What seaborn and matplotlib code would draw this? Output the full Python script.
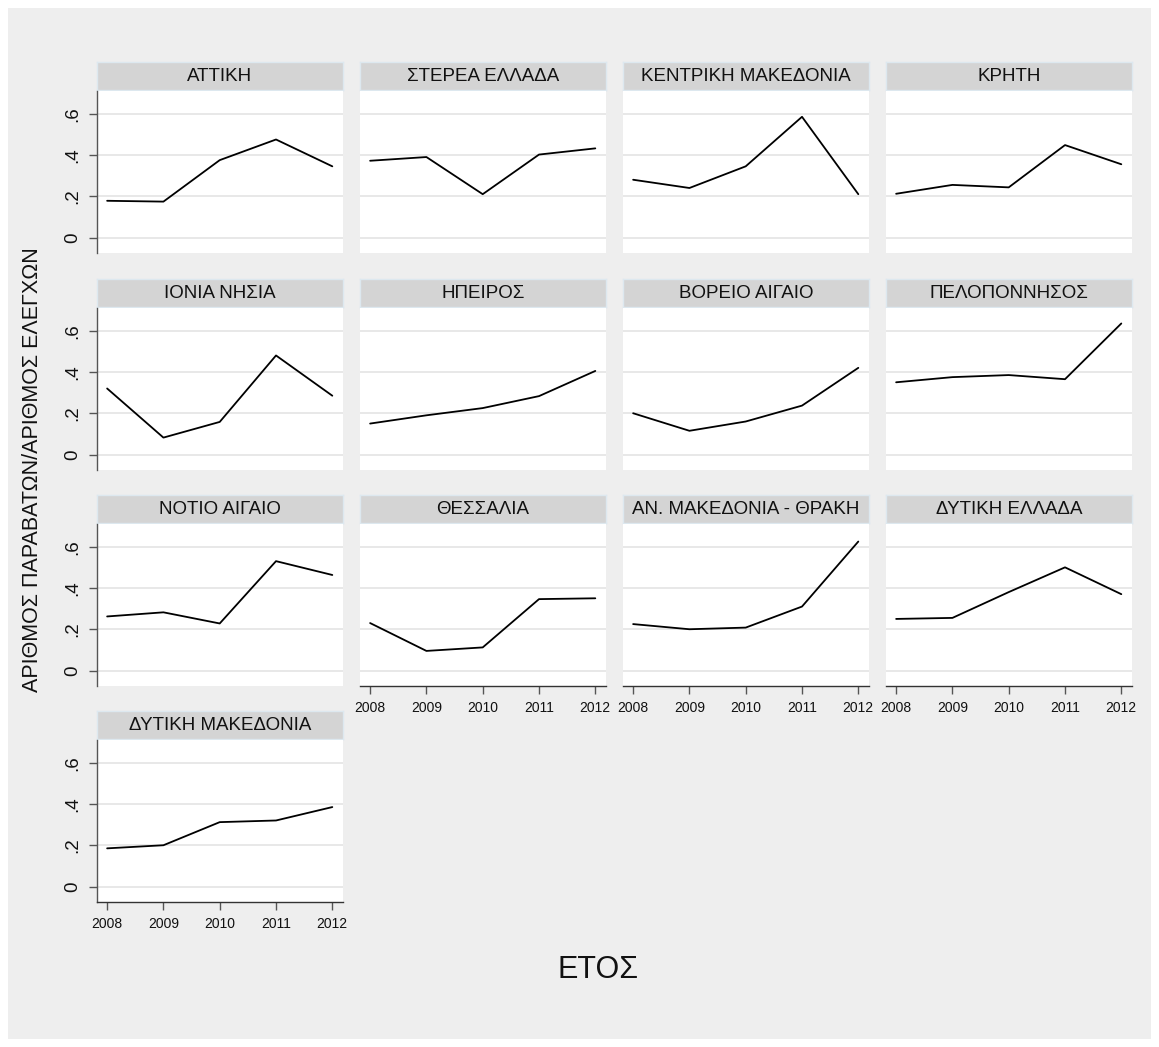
import matplotlib
matplotlib.use("Agg")
from matplotlib import pyplot as plt
from matplotlib.patches import Rectangle
import pandas as pd
import seaborn as sns

years = [2008, 2009, 2010, 2011, 2012]
regions = [
    "ΑΤΤΙΚΗ", "ΣΤΕΡΕΑ ΕΛΛΑΔΑ", "ΚΕΝΤΡΙΚΗ ΜΑΚΕΔΟΝΙΑ", "ΚΡΗΤΗ",
    "ΙΟΝΙΑ ΝΗΣΙΑ", "ΗΠΕΙΡΟΣ", "ΒΟΡΕΙΟ ΑΙΓΑΙΟ", "ΠΕΛΟΠΟΝΝΗΣΟΣ",
    "ΝΟΤΙΟ ΑΙΓΑΙΟ", "ΘΕΣΣΑΛΙΑ", "ΑΝ. ΜΑΚΕΔΟΝΙΑ - ΘΡΑΚΗ", "ΔΥΤΙΚΗ ΕΛΛΑΔΑ",
    "ΔΥΤΙΚΗ ΜΑΚΕΔΟΝΙΑ",
]
attiki = [0.178, 0.174, 0.375, 0.475, 0.345]
sterea = [0.372, 0.390, 0.210, 0.402, 0.432]
kentriki_mak = [0.280, 0.240, 0.345, 0.585, 0.210]
kriti = [0.212, 0.255, 0.243, 0.448, 0.355]
ionia = [0.320, 0.082, 0.158, 0.480, 0.285]
ipeiros = [0.150, 0.190, 0.225, 0.283, 0.405]
voreio_aigaio = [0.200, 0.115, 0.160, 0.237, 0.420]
peloponnisos = [0.350, 0.375, 0.385, 0.365, 0.635]
notio_aigaio = [0.262, 0.282, 0.228, 0.530, 0.463]
thessalia = [0.230, 0.095, 0.112, 0.346, 0.350]
an_mak_thraki = [0.225, 0.200, 0.208, 0.310, 0.625]
dytiki_ellada = [0.250, 0.255, 0.380, 0.500, 0.370]
dytiki_mak = [0.185, 0.200, 0.312, 0.320, 0.385]

series = [attiki, sterea, kentriki_mak, kriti, ionia, ipeiros, voreio_aigaio,
          peloponnisos, notio_aigaio, thessalia, an_mak_thraki, dytiki_ellada, dytiki_mak]

rows = []
for name, vals in zip(regions, series):
    for yr, v in zip(years, vals):
        rows.append({"region": name, "year": yr, "ratio": v})
df = pd.DataFrame(rows)

sns.set_style("white")
plt.rcParams["font.family"] = ["Liberation Sans", "DejaVu Sans"]

W, H = 1159, 1047
fig = plt.figure(figsize=(W / 100, H / 100), dpi=100)
fig.patch.set_facecolor("white")
fig.add_artist(Rectangle((8 / W, 8 / H), 1 - 16 / W, 1 - 16 / H,
                         transform=fig.transFigure, facecolor="#eeeeee",
                         edgecolor="none", zorder=0))


def rect(x, y, w, h):
    return [x / W, 1 - (y + h) / H, w / W, h / H]


col_x = [97, 360, 623, 886]
row_y = [62, 279, 495, 711]
panel_w, strip_h, plot_h = 246, 28, 162

for i, name in enumerate(regions):
    r, c = divmod(i, 4)
    x0, y0 = col_x[c], row_y[r]
    # strip header
    sax = fig.add_axes(rect(x0, y0, panel_w, strip_h))
    sax.set_facecolor("#d4d4d4")
    sax.set_xticks([])
    sax.set_yticks([])
    for sp in sax.spines.values():
        sp.set_color("#dde8ef")
        sp.set_linewidth(1)
    sax.text(0.5, 0.48, name, ha="center", va="center", fontsize=13.5,
             color="#111111", transform=sax.transAxes)

    ax = fig.add_axes(rect(x0, y0 + strip_h + 1, panel_w, plot_h))
    ax.set_facecolor("white")
    sns.lineplot(data=df[df["region"] == name], x="year", y="ratio",
                 color="black", linewidth=1.3, ax=ax)
    ax.set_xlim(2007.82, 2012.19)
    ax.set_ylim(-0.075, 0.71)
    ax.set_xlabel("")
    ax.set_ylabel("")
    ax.set_yticks([0, 0.2, 0.4, 0.6])
    ax.set_xticks(years)
    ax.grid(axis="y", color="#e8e8e8", linewidth=1.4)
    ax.set_axisbelow(True)
    for sp in ax.spines.values():
        sp.set_visible(False)

    show_left = c == 0
    show_bottom = (i + 4) >= len(regions)
    if show_left:
        ax.spines["left"].set_visible(True)
        ax.spines["left"].set_color("#555555")
        ax.spines["left"].set_linewidth(1)
        ax.set_yticklabels(["0", ".2", ".4", ".6"], rotation=90, va="center")
        ax.tick_params(axis="y", left=True, length=6, width=1, color="#555555",
                       labelsize=13.5, pad=5, labelcolor="#111111")
    else:
        ax.tick_params(axis="y", left=False, labelleft=False)
    if show_bottom:
        ax.spines["bottom"].set_visible(True)
        ax.spines["bottom"].set_color("#333333")
        ax.spines["bottom"].set_linewidth(1)
        ax.set_xticklabels([str(y) for y in years])
        ax.tick_params(axis="x", bottom=True, length=6, width=1, color="#555555",
                       labelsize=10, pad=5, labelcolor="#111111")
    else:
        ax.tick_params(axis="x", bottom=False, labelbottom=False)

fig.text(33 / W, 1 - 470 / H, "ΑΡΙΘΜΟΣ ΠΑΡΑΒΑΤΩΝ/ΑΡΙΘΜΟΣ ΕΛΕΓΧΩΝ", rotation=90,
         ha="center", va="center", fontsize=15.5, color="#111111")
fig.text(598 / W, 1 - 970 / H, "ΕΤΟΣ", ha="center", va="center",
         fontsize=22, color="#111111")

fig.savefig("out.png", dpi=100, facecolor=fig.get_facecolor())
